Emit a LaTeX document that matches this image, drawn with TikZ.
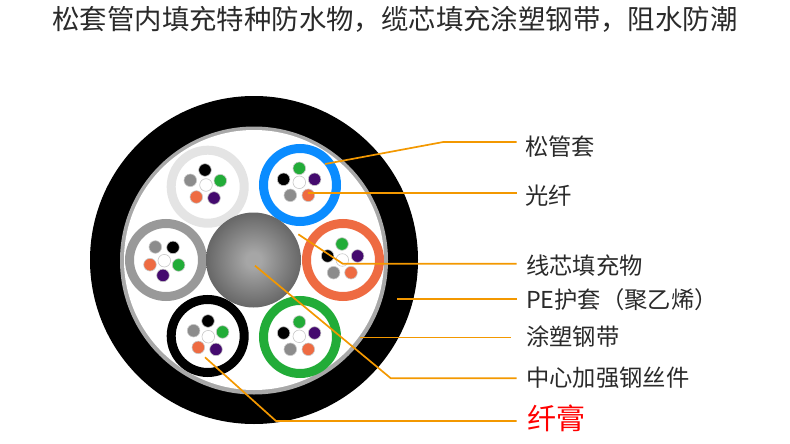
\documentclass[tikz,border=0pt]{standalone}
\usepackage{fontspec}
\setmainfont{Noto Sans CJK SC}
\usetikzlibrary{calc}
\definecolor{lead}{HTML}{F39800}
\definecolor{ink}{HTML}{2A2A2A}
\definecolor{tblue}{HTML}{0A8CFF}
\definecolor{tlight}{HTML}{E4E4E4}
\definecolor{tgray}{HTML}{999999}
\definecolor{torange}{HTML}{EE6B42}
\definecolor{tgreen}{HTML}{22AC38}
\definecolor{fpurple}{HTML}{440A6E}
\definecolor{fgray}{HTML}{8C8C8C}
\definecolor{fedge}{HTML}{C8C8C8}
\definecolor{steelone}{HTML}{A6A6A6}
\definecolor{steeltwo}{HTML}{676767}
\pgfdeclareradialshading{steelball}{\pgfpoint{0bp}{0bp}}{
  color(0bp)=(steelone); color(4bp)=(steelone); color(25bp)=(steeltwo); color(50bp)=(steeltwo)}
\tikzset{
  disc/.style={circle,inner sep=0pt,outer sep=0pt,minimum size=#1},
  fibre/.style={disc=12.6pt,draw=fedge,line width=0.6pt},
  tube/.style={disc=73pt,fill=white,line width=9pt},
  leadline/.style={draw=lead,line width=1.7pt,line join=miter},
  lab/.style={anchor=west,inner sep=0pt,text=ink,font=\fontsize{23.3}{26}\selectfont},
}
\newcommand{\fibres}[7]{% name, centre, black, green, purple, orange, gray
  \node[fibre,fill=white] (#1c) at (#2) {};
  \node[fibre,fill=black] (#1k) at ($(#2)+(#3)$) {};
  \node[fibre,fill=tgreen] (#1g) at ($(#2)+(#4)$) {};
  \node[fibre,fill=fpurple] (#1p) at ($(#2)+(#5)$) {};
  \node[fibre,fill=torange] (#1o) at ($(#2)+(#6)$) {};
  \node[fibre,fill=fgray] (#1y) at ($(#2)+(#7)$) {};
}
\begin{document}
\begin{tikzpicture}[x=1pt,y=-1pt]
\useasboundingbox (0,0) rectangle (790,444);
\node[anchor=center,inner sep=0pt,text=ink,font=\fontsize{27.4}{30}\selectfont] (title) at (395,19) {松套管内填充特种防水物，缆芯填充涂塑钢带，阻水防潮};
% jacket
\node[disc=328pt,fill=black] (jacket) at (254,260) {};
\node[disc=268pt,fill=tgray!85!white] (tape) at (254,260.5) {};
\node[disc=260pt,fill=white] (core) at (254,260) {};
% tubes
\node[tube,draw=tlight] (t1) at (207.7,186.7) {};
\node[tube,draw=tblue] (t2) at (300,185) {};
\node[tube,draw=tgray] (t3) at (166,260) {};
\node[tube,draw=torange] (t4) at (343,260) {};
\node[tube,draw=black] (t5) at (207.7,336) {};
\node[tube,draw=tgreen] (t6) at (300,337) {};
% steel
\node[disc=95pt,shading=steelball] (steel) at (253.5,260) {};
% fibres
\fibres{a}{206,185}{-1,-15}{14.3,-4.3}{8,13}{-9.7,12}{-15.7,-4.7}
\fibres{b}{299.3,182.3}{-15.7,-3}{0,-14}{15.3,-3}{9,13}{-9,13}
\fibres{c}{164.3,260.7}{8.7,-13.3}{14.3,4.3}{-1.3,14.7}{-14.3,4}{-9,-13.7}
\fibres{d}{342.3,260}{-14.7,-4}{-0.3,-16}{15.3,-4}{8.7,12.7}{-8.7,12.7}
\fibres{e}{208.3,336.7}{-0.3,-15.7}{14.3,-4.7}{7.7,12.7}{-10,10.7}{-14.7,-6}
\fibres{f}{299.3,336.3}{-15.7,-3.3}{0,-14.3}{15.3,-3.3}{9,13}{-9,13}
% labels
\node[lab] (lA) at (525,147) {松管套};
\node[lab] (lB) at (525,196) {光纤};
\node[lab] (lC) at (526,266) {线芯填充物};
\node[lab] (lD) at (526,300) {PE护套（聚乙烯）};
\node[lab] (lE) at (526,337) {涂塑钢带};
\node[lab] (lF) at (526,378) {中心加强钢丝件};
\node[lab,text=red,font=\fontsize{29}{32}\selectfont] (lG) at (527,418) {纤膏};
% connector ends
\coordinate (pAs) at (325,164);     \coordinate (pAk) at (443.3,142);  \coordinate (pAe) at (516.7,142);
\coordinate (pBs) at (308.3,193.3); \coordinate (pBe) at (516.7,193.3);
\coordinate (pCs) at (298.3,234.3); \coordinate (pCk) at (342.7,263.7);\coordinate (pCe) at (516.7,263.7);
\coordinate (pDs) at (397.3,299);   \coordinate (pDe) at (516.7,299);
\coordinate (pEs) at (360,337.6);   \coordinate (pEe) at (511,337.6);
\coordinate (pFs) at (255,265.7);   \coordinate (pFk) at (390.7,378.2);\coordinate (pFe) at (516.7,378.2);
\coordinate (pGs) at (205,357.3);   \coordinate (pGk) at (276,421);    \coordinate (pGe) at (516.7,421);
\draw[leadline] (pAs) -- (pAk) -- (pAe);
\draw[leadline] (pBs) -- (pBe);
\draw[leadline] (pCs) -- (pCk) -- (pCe);
\draw[leadline] (pDs) -- (pDe);
\draw[leadline] (pEs) -- (pEe);
\draw[leadline] (pFs) -- (pFk) -- (pFe);
\draw[leadline] (pGs) -- (pGk) -- (pGe);
\end{tikzpicture}
\end{document}
